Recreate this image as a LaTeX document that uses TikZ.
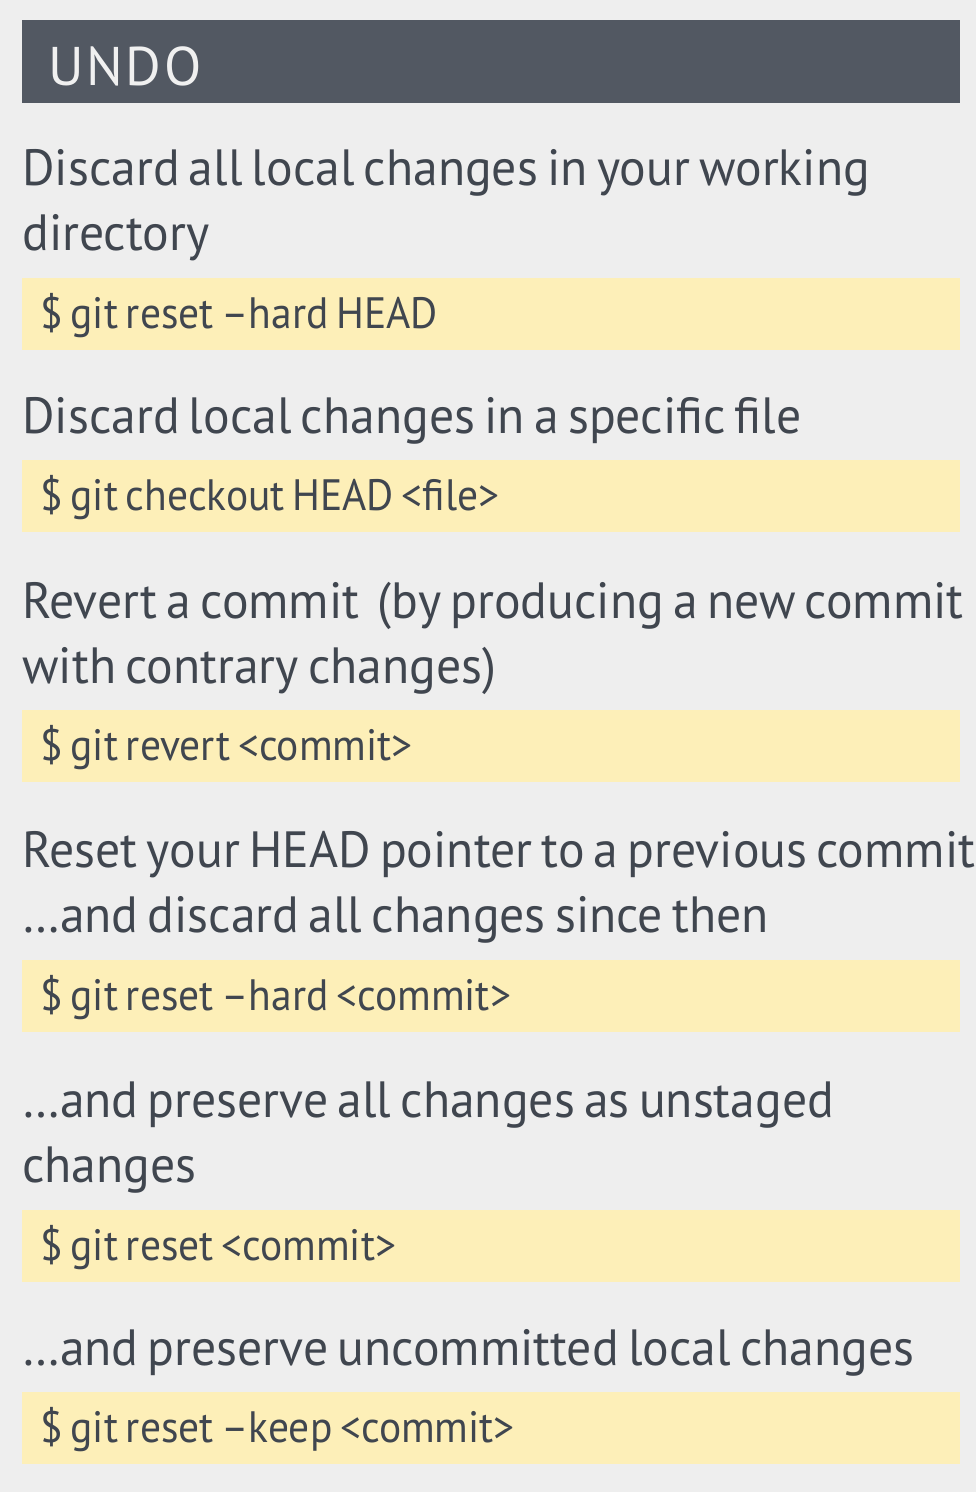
\documentclass[tikz,border=0pt]{standalone}
\usepackage{fontspec}
\setmainfont[FakeStretch=0.975,WordSpace=0.7]{PT Sans}
\newfontfamily\cmdfont[FakeStretch=0.945,WordSpace=0.7]{PT Sans}
\newfontfamily\headfont[LetterSpace=5]{PT Sans}
\definecolor{pagebg}{HTML}{EEEEEE}
\definecolor{headfill}{HTML}{525862}
\definecolor{headtext}{HTML}{F0F0F0}
\definecolor{desctext}{HTML}{40464F}
\definecolor{cmdfill}{HTML}{FDEFB8}
\tikzset{
  heading/.style={anchor=base west,inner sep=0pt,text=headtext,font=\headfont\fontsize{31}{31}\selectfont},
  desc/.style={anchor=base west,inner sep=0pt,text=desctext,font=\fontsize{29}{29}\selectfont},
  cmd/.style={anchor=base west,inner sep=0pt,text=desctext,font=\cmdfont\fontsize{25}{25}\selectfont}
}
\begin{document}
\begin{tikzpicture}[x=0.02cm,y=-0.02cm]
            \useasboundingbox (0,0) rectangle (976,1492);
            \fill[pagebg] (0,0) rectangle (976,1492);
            \fill[headfill] (22,20) rectangle (960,103);
            \node[heading] (undo) at (48,85) {UNDO};

            \node[desc] (d1a) at (22,185) {Discard all local changes in your working};
            \node[desc] (d1b) at (22,250) {directory};
            \node[desc] (d2) at (22,433) {Discard local changes in a specific file};
            \node[desc] (d3a) at (22,618) {Revert a commit\ \ (by producing a new commit};
            \node[desc] (d3b) at (22,683) {with contrary changes)};
            \node[desc] (d4a) at (22,867) {Reset your HEAD pointer to a previous commit};
            \node[desc] (d4b) at (22,932) {…and discard all changes since then};
            \node[desc] (d5a) at (22,1117) {…and preserve all changes as unstaged};
            \node[desc] (d5b) at (22,1182) {changes};
            \node[desc] (d6) at (22,1365) {…and preserve uncommitted local changes};

            \foreach \n/\by/\txt in {1/278/{\$ git reset –hard HEAD},
                                     2/460/{\$ git checkout HEAD <file>},
                                     3/710/{\$ git revert <commit>},
                                     4/960/{\$ git reset –hard <commit>},
                                     5/1210/{\$ git reset <commit>},
                                     6/1392/{\$ git reset –keep <commit>}}
                {
                    \fill[cmdfill] (22,\by) rectangle (960,\by+72);
                    \node[cmd] (c\n) at (40,\by+50) {\txt};
                }
        \end{tikzpicture}
\end{document}
